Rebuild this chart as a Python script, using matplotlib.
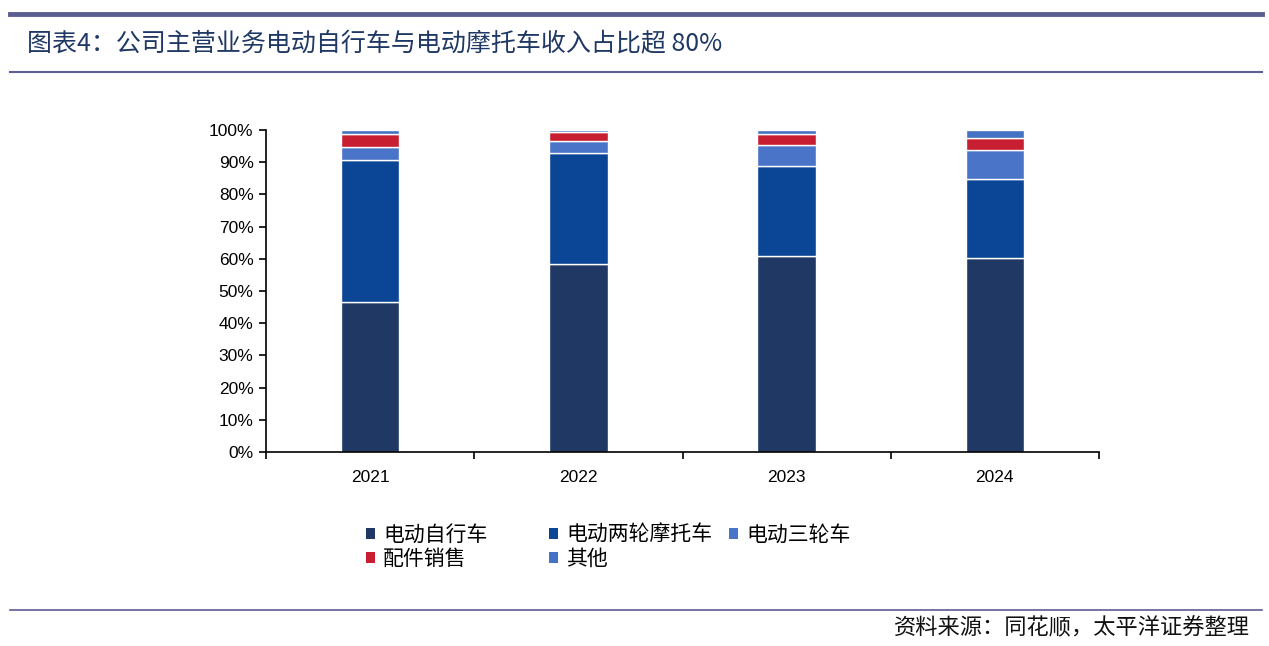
import matplotlib
matplotlib.use("Agg")
import matplotlib.pyplot as plt
from matplotlib.lines import Line2D
from matplotlib.patches import Patch
from matplotlib.ticker import FuncFormatter, FixedLocator

# 数据（读图估计，单位：%）
年份 = ["2021", "2022", "2023", "2024"]
系列名 = ["电动自行车", "电动两轮摩托车", "电动三轮车", "配件销售", "其他"]
电动自行车 = [46.5, 58.3, 61.0, 60.3]
电动两轮摩托车 = [44.1, 34.5, 27.7, 24.4]
电动三轮车 = [4.0, 3.7, 6.7, 9.0]
配件销售 = [4.2, 3.0, 3.3, 3.8]
其他 = [1.2, 0.5, 1.3, 2.5]

颜色 = ["#1F3864", "#0B4596", "#4A74C8", "#C81E32", "#4472C4"]
线色 = "#5B5E91"

plt.rcParams['font.family'] = ['Liberation Sans', 'Noto Sans CJK SC']

fig = plt.figure(figsize=(12.69, 6.46), dpi=100)
ax = fig.add_axes([266 / 1269, 1 - 452 / 646, (1099 - 266) / 1269, (452 - 130) / 646])

x = range(len(年份))
底 = [0.0] * len(年份)
句柄 = []
for 名, 值, 色 in zip(系列名, [电动自行车, 电动两轮摩托车, 电动三轮车, 配件销售, 其他], 颜色):
    ax.bar(x, [v / 100 for v in 值], bottom=底, width=0.28, color=色,
           edgecolor="white", linewidth=1.0)
    底 = [b + v / 100 for b, v in zip(底, 值)]
    句柄.append(Patch(facecolor=色, edgecolor="none", label=名))

ax.set_xlim(-0.5, len(年份) - 0.5)
ax.set_ylim(0, 1.0)
ax.set_yticks([i / 10 for i in range(11)])
ax.yaxis.set_major_formatter(FuncFormatter(lambda v, p: f"{v * 100:.0f}%"))
ax.set_xticks(list(x))
ax.set_xticklabels(年份)
ax.xaxis.set_minor_locator(FixedLocator([i - 0.5 for i in range(len(年份) + 1)]))
ax.tick_params(axis="x", which="major", length=0, labelsize=12.5, pad=13)
ax.tick_params(axis="x", which="minor", length=5, width=1.2, direction="out")
ax.tick_params(axis="y", length=5, width=1.2, labelsize=12.5, pad=4)
for s in ["top", "right"]:
    ax.spines[s].set_visible(False)
for s in ["left", "bottom"]:
    ax.spines[s].set_linewidth(1.2)

# 图例（三列，按行排）
分组 = [[句柄[0], 句柄[3]], [句柄[1], 句柄[4]], [句柄[2]]]
列x = [366, 549, 729]
for hs, px in zip(分组, 列x):
    lg = fig.legend(handles=hs, loc="upper left", bbox_to_anchor=(px / 1269, 1 - 524 / 646),
                    frameon=False, fontsize=15, handlelength=0.42, handleheight=0.42,
                    handletextpad=0.4, labelspacing=0.1, borderpad=0, borderaxespad=0)
    for t in lg.get_texts():
        t.set_family(['Noto Sans CJK SC', 'DejaVu Sans'])

# 标题与装饰线
fig.add_artist(Line2D([10 / 1269, 1262 / 1269], [1 - 14 / 646] * 2, color=线色, linewidth=3.5,
                      transform=fig.transFigure))
fig.add_artist(Line2D([10 / 1269, 1262 / 1269], [1 - 72 / 646] * 2, color=线色, linewidth=1.5,
                      transform=fig.transFigure))
fig.add_artist(Line2D([10 / 1269, 1262 / 1269], [1 - 610 / 646] * 2, color=线色, linewidth=1.2,
                      transform=fig.transFigure))
fig.text(27 / 1269, 1 - 44 / 646, "图表4：公司主营业务电动自行车与电动摩托车收入占比超 80%",
         fontsize=18, color="#1F3864", ha="left", va="center",
         family=['Noto Sans CJK SC', 'DejaVu Sans'])
fig.text(1250 / 1269, 1 - 628 / 646, "资料来源：同花顺，太平洋证券整理",
         fontsize=16, color="#111111", ha="right", va="center", style="italic",
         family=['Noto Sans CJK SC', 'DejaVu Sans'])

fig.savefig("out.png", dpi=100)
